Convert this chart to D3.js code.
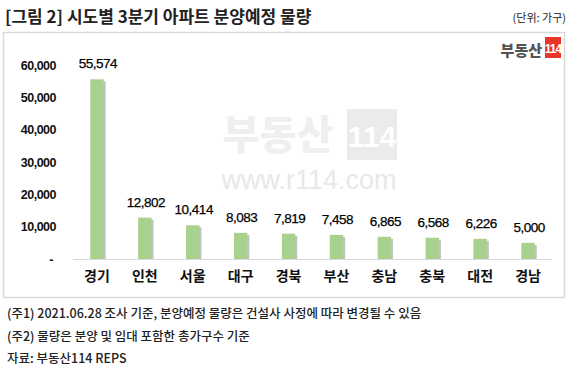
<!DOCTYPE html>
<html><head><meta charset="utf-8">
<script src="https://cdn.jsdelivr.net/npm/d3@7"></script>
<style>
body{margin:0;background:#fff;}
svg{display:block;font-family:"Noto Sans CJK KR","Noto Sans",sans-serif;}
</style></head>
<body><svg id="c" width="572" height="377"></svg>
<script>
const categories = ["경기","인천","서울","대구","경북","부산","충남","충북","대전","경남"];
const values = [55574,12802,10414,8083,7819,7458,6865,6568,6226,5000];
const yTicks = [0,10000,20000,30000,40000,50000,60000];
const titleText = "[그림 2] 시도별 3분기 아파트 분양예정 물량";
const unitText = "(단위: 가구)";
const notes = ["(주1) 2021.06.28 조사 기준, 분양예정 물량은 건설사 사정에 따라 변경될 수 있음",
               "(주2) 물량은 분양 및 임대 포함한 총가구수 기준",
               "자료: 부동산114 REPS"];

const svg = d3.select("#c");
svg.append("rect").attr("x",3.5).attr("y",32.5).attr("width",561).attr("height",265)
  .attr("fill","#fff").attr("stroke","#d9d9d9").attr("stroke-width",1.5);

svg.append("text").attr("x",5).attr("y",23).attr("font-size",17).attr("font-weight",700)
  .attr("fill","#222").text(titleText);
svg.append("text").attr("x",566).attr("y",22).attr("text-anchor","end").attr("font-size",11)
  .attr("fill","#222").text(unitText);

// watermark
const wm = svg.append("g");
wm.append("text").attr("x",278).attr("y",149).attr("text-anchor","middle").attr("font-size",40)
  .attr("font-weight",900).attr("fill","#efefef").text("부동산");
wm.append("rect").attr("x",347).attr("y",109).attr("width",50).attr("height",51).attr("fill","#ebebeb");
wm.append("text").attr("x",372).attr("y",147).attr("text-anchor","middle").attr("font-size",30)
  .attr("font-weight",700).attr("fill","#fff").attr("font-family","Liberation Sans Narrow, Liberation Sans").text("114");
wm.append("text").attr("x",309).attr("y",189).attr("text-anchor","middle").attr("font-size",27)
  .attr("fill","#e8e8e8").attr("font-family","Liberation Sans, Arial").text("www.r114.com");

// logo
svg.append("text").attr("x",542).attr("y",56).attr("text-anchor","end").attr("font-size",15)
  .attr("font-weight",900).attr("fill","#555").text("부동산");
svg.append("rect").attr("x",545).attr("y",37).attr("width",16).attr("height",21).attr("fill","#e8362b");
svg.append("text").attr("x",553).attr("y",53).attr("text-anchor","middle").attr("font-size",12)
  .attr("font-weight",700).attr("fill","#fff").attr("letter-spacing",-1)
  .attr("font-family","Liberation Sans Narrow, Liberation Sans").text("114");

const x = d3.scaleBand().domain(categories).range([73,552]).paddingInner(0.72).paddingOuter(0.36);
const y = d3.scaleLinear().domain([0,60000]).range([259,65]);

// axis
const fmt = d => d===0 ? "-" : d3.format(",")(d);
const ax = svg.append("g").attr("transform","translate(56,0)")
  .call(d3.axisLeft(y).tickValues(yTicks).tickFormat(fmt).tickSize(0).tickPadding(0));
ax.select(".domain").remove();
ax.selectAll("text").attr("font-size",12.5).attr("font-weight",700).attr("fill","#111")
  .attr("font-family","Liberation Sans, Arial").attr("letter-spacing",-0.5);
ax.selectAll("text").filter(d=>d===0).attr("dx",-3);

// baseline
svg.append("line").attr("x1",73).attr("x2",552).attr("y1",259.5).attr("y2",259.5)
  .attr("stroke","#d9d9d9").attr("stroke-width",1);

// bars with shadow
svg.selectAll(".sh").data(values).join("rect").attr("class","sh")
  .attr("x",(d,i)=>x(categories[i])+2).attr("y",d=>y(d)+2)
  .attr("width",x.bandwidth()).attr("height",d=>259-y(d)-2).attr("fill","#9a9a9a").attr("opacity",0.6);
svg.selectAll(".bar").data(values).join("rect").attr("class","bar")
  .attr("x",(d,i)=>x(categories[i])).attr("y",d=>y(d))
  .attr("width",x.bandwidth()).attr("height",d=>259-y(d)).attr("fill","#a9d18e");

// value labels
svg.selectAll(".vl").data(values).join("text").attr("class","vl")
  .attr("x",(d,i)=>x(categories[i])+x.bandwidth()/2+1).attr("y",d=>y(d)-11)
  .attr("text-anchor","middle").attr("font-size",13.5).attr("fill","#000")
  .attr("stroke","#000").attr("stroke-width",0.25)
  .attr("font-family","Liberation Sans, Arial").attr("letter-spacing",-0.5)
  .text(d=>d3.format(",")(d));

// category labels
svg.selectAll(".cl").data(categories).join("text").attr("class","cl")
  .attr("x",d=>x(d)+x.bandwidth()/2).attr("y",281).attr("text-anchor","middle")
  .attr("font-size",14).attr("font-weight",700).attr("fill","#111").text(d=>d);

// notes
svg.selectAll(".nt").data(notes).join("text").attr("class","nt")
  .attr("x",7).attr("y",(d,i)=>318+i*22.5).attr("font-size",12.5).attr("fill","#222")
  .attr("font-weight",500).text(d=>d);
</script></body></html>
